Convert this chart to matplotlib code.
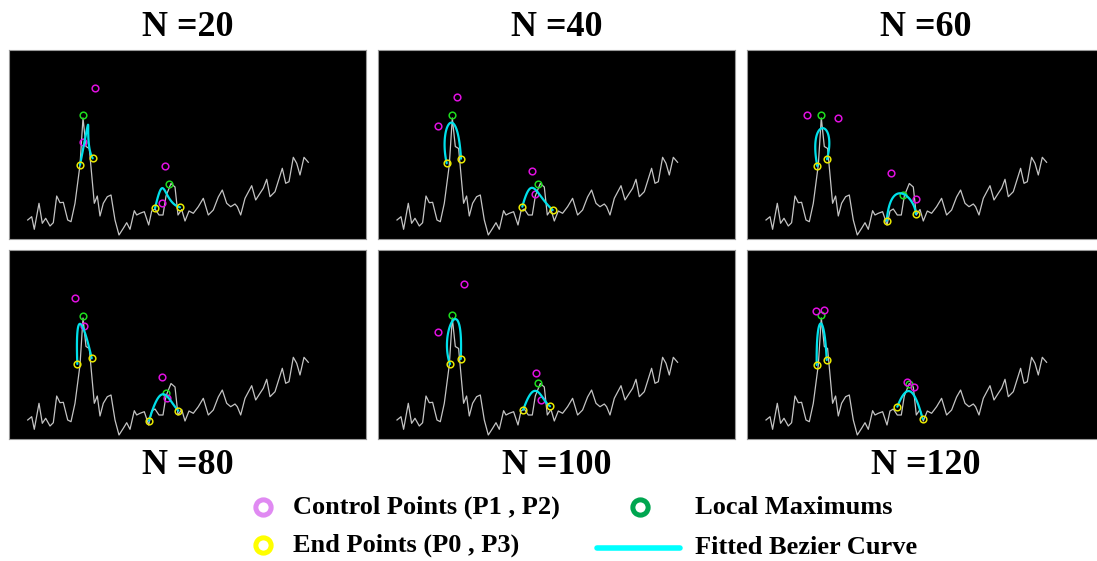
import numpy as np
import matplotlib
matplotlib.use("Agg")
import matplotlib.pyplot as plt
from matplotlib.lines import Line2D

# signal (same in all panels)
sig_t = [18.7, 22.7, 25.3, 30.0, 33.3, 36.7, 41.0, 44.3, 47.7, 51.0, 54.3, 58.7, 62.0, 66.0,
         71.0, 74.0, 77.0, 80.3, 85.3, 88.3, 91.0, 94.3, 98.3, 102.0, 106.0, 110.0, 114.3,
         117.7, 121.0, 125.3, 127.7, 131.0, 135.3, 139.7, 142.7, 146.0, 150.0, 154.0, 157.0,
         162.0, 166.0, 169.0, 172.7, 176.0, 180.0, 184.3, 189.3, 194.3, 199.3, 204.3, 209.3,
         213.3, 217.7, 221.7, 226.0, 228.3, 231.7, 236.0, 242.7, 246.7, 251.0, 254.3, 257.7,
         261.0, 266.0, 273.3, 276.7, 280.0, 284.3, 287.7, 291.0, 295.0, 299.3]
sig_y = [19.0, 22.3, 9.7, 35.7, 15.7, 20.7, 13.0, 16.3, 43.0, 36.3, 36.7, 19.0, 17.3, 35.7,
         74.0, 121.0, 92.5, 90.5, 35.7, 43.0, 23.0, 35.7, 42.3, 44.0, 19.0, 4.0, 10.7,
         16.3, 9.7, 28.3, 24.0, 25.7, 27.3, 14.0, 28.0, 30.0, 24.0, 24.0, 43.0,
         55.5, 52.0, 24.0, 29.5, 18.0, 28.0, 25.7, 32.3, 40.7, 24.0, 29.0, 42.0,
         49.0, 35.7, 32.3, 35.0, 32.3, 24.0, 40.7, 53.3, 39.0, 45.7, 50.7, 59.7,
         42.3, 47.3, 70.7, 55.7, 57.3, 81.7, 75.7, 64.0, 81.7, 76.7]

ns = [20, 40, 60, 80, 100, 120]

# end points: peak A (P0, P3), peak B (P0, P3)
end_pts = [
    [(71.0, 74.0), (83.7, 80.7), (146.0, 30.7), (171.0, 31.7)],
    [(68.4, 75.7), (82.7, 80.3), (144.0, 32.3), (174.4, 29.0)],
    [(70.0, 73.0), (79.7, 79.7), (139.4, 18.3), (168.4, 25.0)],
    [(68.3, 75.0), (82.7, 80.7), (140.0, 18.3), (169.3, 28.3)],
    [(71.7, 75.0), (82.4, 80.0), (145.0, 29.3), (171.7, 32.7)],
    [(69.4, 74.0), (79.4, 79.0), (150.0, 32.3), (175.4, 20.0)],
]
# control points: peak A (P1, P2), peak B (P1, P2)
ctrl_pts = [
    [(86.0, 150.7), (73.7, 97.3), (156.0, 73.0), (153.3, 36.3)],
    [(60.0, 113.3), (79.0, 142.3), (154.0, 68.0), (156.7, 45.0)],
    [(60.0, 124.0), (90.4, 120.7), (143.7, 66.3), (168.7, 39.7)],
    [(66.0, 140.7), (75.3, 113.3), (153.3, 62.3), (157.7, 41.0)],
    [(60.0, 107.3), (86.0, 155.0), (157.7, 66.0), (162.4, 39.0)],
    [(68.7, 127.7), (77.0, 129.3), (160.0, 57.3), (166.7, 51.7)],
]
local_max = [
    [(73.7, 124.0), (160.3, 55.0)],
    [(73.4, 124.0), (159.4, 55.0)],
    [(73.4, 124.0), (156.0, 44.0)],
    [(73.7, 123.3), (156.7, 46.0)],
    [(73.4, 124.0), (159.4, 55.7)],
    [(73.7, 124.3), (162.0, 55.0)],
]

W, H = 1097, 561
fig = plt.figure(figsize=(W / 100, H / 100), dpi=100)
fig.patch.set_facecolor("white")

lefts = [9, 378.3, 747.3]
tops = [50, 250]
pw, ph = 357, 189

serif = ["Liberation Serif", "DejaVu Serif"]

def bezier(p0, p1, p2, p3):
    t = np.linspace(0, 1, 120)[:, None]
    p0, p1, p2, p3 = map(np.array, (p0, p1, p2, p3))
    return ((1 - t) ** 3 * p0 + 3 * (1 - t) ** 2 * t * p1
            + 3 * (1 - t) * t ** 2 * p2 + t ** 3 * p3)

ms, mew = 4.8, 1.1
for i, n in enumerate(ns):
    r, c = divmod(i, 3)
    ax = fig.add_axes([lefts[c] / W, 1 - (tops[r] + ph) / H, pw / W, ph / H])
    ax.set_facecolor("black")
    ax.set_xlim(0, pw)
    ax.set_ylim(0, ph)
    ax.set_xticks([])
    ax.set_yticks([])
    for s in ax.spines.values():
        s.set_color("#999999")
        s.set_linewidth(0.8)

    ax.plot(sig_t, sig_y, color="#c4c4c4", lw=0.9, zorder=1)

    mx = np.array(local_max[i])
    ax.plot(mx[:, 0], mx[:, 1], "o", ms=ms, mfc="none", mec="#1edc1e", mew=mew, zorder=2)
    cp = np.array(ctrl_pts[i])
    ax.plot(cp[:, 0], cp[:, 1], "o", ms=ms, mfc="none", mec="#e010e0", mew=mew, zorder=3)

    e, k = end_pts[i], ctrl_pts[i]
    for j in (0, 2):
        curve = bezier(e[j], k[j], k[j + 1], e[j + 1])
        ax.plot(curve[:, 0], curve[:, 1], color="#00e0ea", lw=1.6, zorder=4,
                solid_capstyle="round")
    ep = np.array(e)
    ax.plot(ep[:, 0], ep[:, 1], "o", ms=ms, mfc="none", mec="#e8e800", mew=mew, zorder=5)

    cx = (lefts[c] + pw / 2) / W
    ty = 27 if r == 0 else 465
    fig.text(cx, 1 - ty / H, f"N ={n}", ha="center", va="center",
             fontsize=26, fontweight="bold", family=serif)

# legend drawn in pixel space
lg = fig.add_axes([0, 0, 1, 1])
lg.set_xlim(0, W)
lg.set_ylim(H, 0)
lg.axis("off")
lg.patch.set_alpha(0)
lg.add_line(Line2D([263], [507], marker="o", ms=11, mfc="none", mec="#e08af2", mew=3.6))
lg.add_line(Line2D([263], [545], marker="o", ms=11, mfc="none", mec="#ffff00", mew=3.6))
lg.add_line(Line2D([640], [507], marker="o", ms=11, mfc="none", mec="#00a650", mew=3.6))
lg.add_line(Line2D([597, 680], [548, 548], color="#00ffff", lw=4, solid_capstyle="round"))
labels = [("Control Points (P1 , P2)", 293, 507), ("End Points (P0 , P3)", 293, 545),
          ("Local Maximums", 695, 507), ("Fitted Bezier Curve", 695, 548)]
for txt, x, y in labels:
    lg.text(x, y, txt, ha="left", va="center", fontsize=19, fontweight="bold", family=serif)

fig.savefig("out.png", dpi=100)
